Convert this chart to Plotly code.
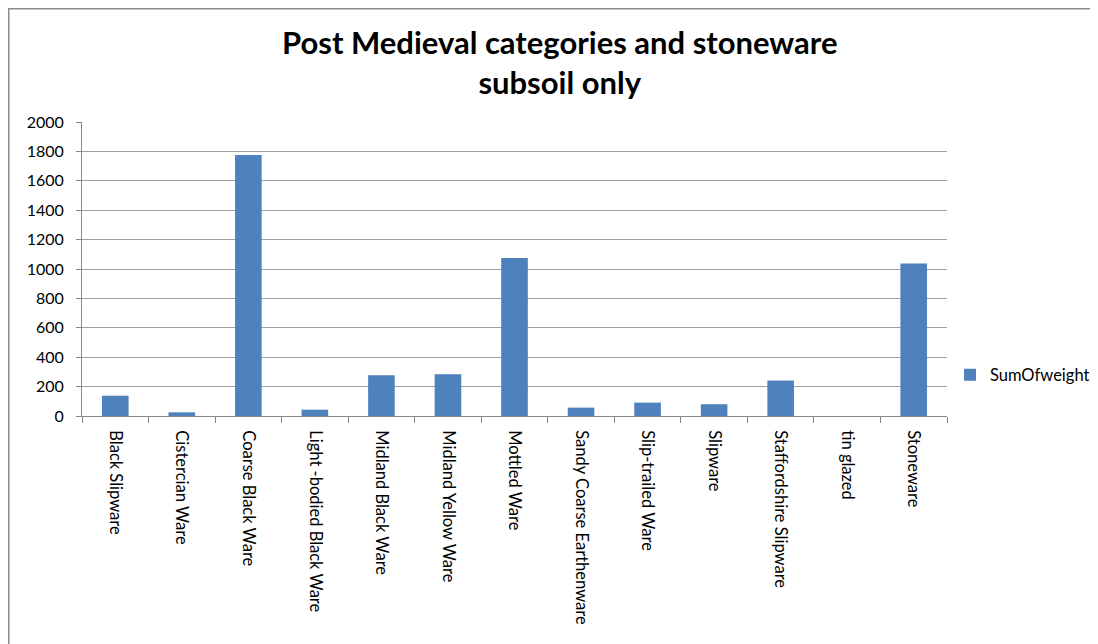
import plotly.graph_objects as go

categories = [
    "Black Slipware", "Cistercian Ware", "Coarse Black Ware", "Light -bodied Black Ware",
    "Midland Black Ware", "Midland Yellow Ware", "Mottled Ware", "Sandy Coarse Earthenware",
    "Slip-trailed Ware", "Slipware", "Staffordshire Slipware", "tin glazed", "Stoneware",
]
sum_of_weight = [138, 25, 1775, 43, 277, 284, 1074, 57, 91, 80, 241, 0, 1037]
series_name = "SumOfweight"
title_lines = ["Post Medieval categories and stoneware", "subsoil only"]
y_ticks = [0, 200, 400, 600, 800, 1000, 1200, 1400, 1600, 1800, 2000]

# page body has 8px default margin; work in screen coords and convert
OFF = 8
W, H = 1098 - OFF, 644 - OFF
SL, SR, ST, SB = 82, 947, 122, 416  # plot area in screen pixels
L, R, T, B = SL - OFF, SR - OFF, ST - OFF, SB - OFF

FONT = "Lato, Carlito, Calibri, sans-serif"

fig = go.Figure()
fig.add_trace(go.Bar(
    x=categories, y=sum_of_weight, name=series_name,
    marker=dict(color="#4F81BD", line=dict(width=0)),
    showlegend=True,
))

def sx(p):
    return (p - SL) / (SR - SL)

def sy(p):
    return (SB - p) / (SB - ST)

annotations = [
    dict(text="<b>" + title_lines[0] + "</b><br><b>" + title_lines[1] + "</b>",
         xref="paper", yref="paper",
         x=sx(559), y=sy(62), xanchor="center", yanchor="middle", showarrow=False,
         align="center",
         font=dict(size=31, color="#000000", family=FONT)),
]

fig.update_layout(
    width=W, height=H,
    margin=dict(l=L, r=W - R, t=T, b=H - B, autoexpand=False),
    paper_bgcolor="white", plot_bgcolor="white",
    font=dict(family=FONT, color="#000000"),
    bargap=0.6,
    annotations=annotations,
    legend=dict(
        x=sx(950), y=sy(375), xanchor="left", yanchor="middle",
        font=dict(size=16.5, color="#000000"), bgcolor="rgba(0,0,0,0)",
        itemwidth=30, tracegroupgap=0,
    ),
    xaxis=dict(
        type="category", tickangle=90, tickson="boundaries",
        ticks="outside", ticklen=6, tickcolor="#888888",
        showline=True, linecolor="#888888", linewidth=1,
        showgrid=False, tickfont=dict(size=16.5, color="#000000"),
        ticklabelstandoff=10, automargin=False,
    ),
    yaxis=dict(
        range=[0, 2000], tickvals=y_ticks, ticks="outside", ticklen=5,
        tickcolor="#888888", showline=True, linecolor="#888888", linewidth=1,
        showgrid=True, gridcolor="#A0A0A0", gridwidth=1, zeroline=False,
        tickfont=dict(size=16, color="#000000"), ticklabelstandoff=9,
        automargin=False,
    ),
    shapes=[
        dict(type="line", xref="paper", yref="paper", x0=sx(OFF), x1=sx(1110),
             y0=sy(OFF + 0.5), y1=sy(OFF + 0.5), line=dict(color="#8C8C8C", width=2)),
        dict(type="line", xref="paper", yref="paper", x0=sx(OFF + 0.5), x1=sx(OFF + 0.5),
             y0=sy(OFF), y1=sy(660), line=dict(color="#8C8C8C", width=2)),
    ],
)

fig.write_html("out.html")
